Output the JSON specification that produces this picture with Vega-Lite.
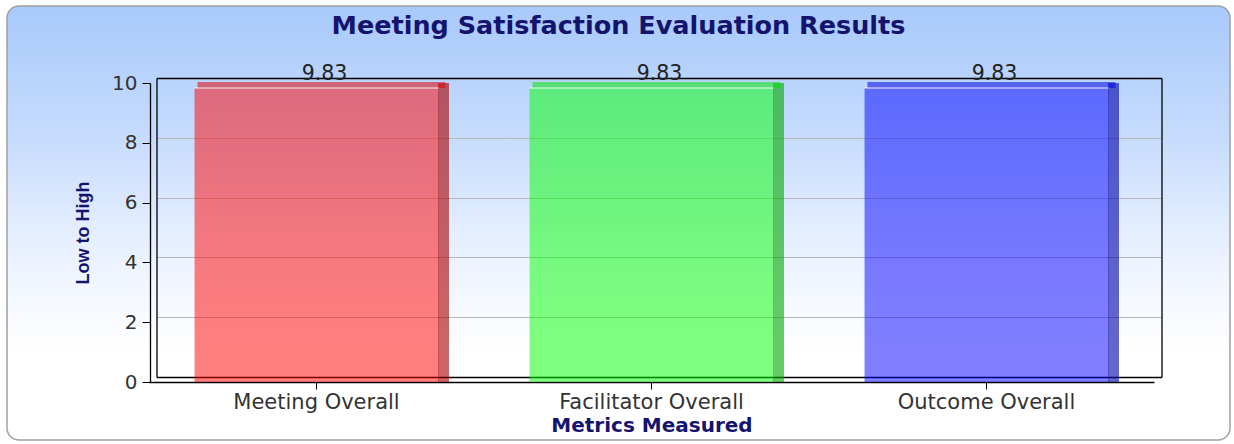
{
  "$schema": "https://vega.github.io/schema/vega-lite/v6.json",
  "width": 1223,
  "height": 434,
  "autosize": {"type": "none"},
  "padding": {"left": 7, "top": 6, "right": 4, "bottom": 4},
  "background": "white",
  "config": {
    "view": {
      "fill": {"gradient": "linear", "x1": 0, "y1": 0, "x2": 0, "y2": 1,
        "stops": [
          {"offset": 0, "color": "#a8c9fb"},
          {"offset": 0.3, "color": "#c6dcfd"},
          {"offset": 0.6, "color": "#eef4ff"},
          {"offset": 0.8, "color": "#ffffff"},
          {"offset": 1, "color": "#ffffff"}
        ]},
      "stroke": "#a0a0a0",
      "strokeWidth": 1.5,
      "cornerRadius": 12
    }
  },
  "title": {
    "text": "Meeting Satisfaction Evaluation Results",
    "font": "DejaVu Sans",
    "fontSize": 25.5,
    "fontWeight": "bold",
    "color": "#14146e",
    "anchor": "middle",
    "frame": "group",
    "baseline": "alphabetic",
    "offset": -53
  },
  "data": {
    "values": [
      {"metric": "Meeting Overall", "score": 9.83},
      {"metric": "Facilitator Overall", "score": 9.83},
      {"metric": "Outcome Overall", "score": 9.83}
    ]
  },
  "layer": [
    {
      "mark": {"type": "bar", "opacity": 0},
      "encoding": {
        "x": {"field": "metric", "type": "nominal",
          "scale": {"domain": ["Meeting Overall", "Facilitator Overall", "Outcome Overall"], "range": [149.5, 1154.5], "paddingInner": 0.272, "paddingOuter": 0.136},
          "axis": {"orient": "top", "offset": -72, "domain": true, "domainColor": "#000", "domainWidth": 1.3, "ticks": false, "labels": false, "grid": false, "title": null}},
        "y": {"field": "score", "type": "quantitative", "stack": null,
          "scale": {"domain": [0, 10], "range": [371, 72], "nice": false},
          "axis": {"orient": "left", "offset": -149.5, "domain": true, "domainColor": "#000", "domainWidth": 1.3, "ticks": false, "labels": false, "grid": true, "gridColor": "#b8b8b8", "gridWidth": 1, "values": [2, 4, 6, 8], "title": null}}
      }
    },
    {
      "mark": {"type": "bar", "opacity": 0},
      "encoding": {
        "x": {"field": "metric", "type": "nominal",
          "scale": {"domain": ["Meeting Overall", "Facilitator Overall", "Outcome Overall"], "range": [149.5, 1154.5], "paddingInner": 0.272, "paddingOuter": 0.136},
          "axis": {"orient": "bottom", "offset": -63, "domain": true, "domainColor": "#000", "domainWidth": 1.3, "ticks": false, "labels": false, "grid": false, "title": null}},
        "y": {"field": "score", "type": "quantitative", "stack": null,
          "scale": {"domain": [0, 10], "range": [371, 72], "nice": false},
          "axis": {"orient": "right", "offset": -68.5, "domain": true, "domainColor": "#000", "domainWidth": 1.3, "ticks": false, "labels": false, "grid": false, "title": null}}
      }
    },
    {
      "encoding": {
        "x": {"field": "metric", "type": "nominal", "title": "Metrics Measured",
          "scale": {"domain": ["Meeting Overall", "Facilitator Overall", "Outcome Overall"], "range": [142, 1147], "paddingInner": 0.272, "paddingOuter": 0.136},
          "axis": {"orient": "bottom", "offset": -58, "labelAngle": 0, "labelLimit": 0, "labelFont": "DejaVu Sans", "labelFontSize": 21, "labelColor": "#333", "labelPadding": 2, "tickSize": 7, "tickColor": "#000", "domainColor": "#000", "domainWidth": 1.3, "titleFont": "DejaVu Sans", "titleFontSize": 20, "titleFontWeight": "bold", "titleColor": "#14146e", "titlePadding": 3, "grid": false}},
        "y": {"field": "score", "type": "quantitative", "stack": null, "title": "Low to High",
          "scale": {"domain": [0, 10], "range": [376, 77], "nice": false},
          "axis": {"orient": "left", "offset": -143, "values": [0, 2, 4, 6, 8, 10], "grid": false, "labelFont": "DejaVu Sans", "labelFontSize": 20, "labelColor": "#333", "labelPadding": 5, "tickSize": 8, "tickColor": "#000", "domainColor": "#000", "domainWidth": 1.3, "titleFont": "Liberation Sans", "titleFontSize": 18, "titleFontWeight": "bold", "titleColor": "#14146e", "titlePadding": 19}},
        "color": {"field": "metric", "type": "nominal",
          "scale": {"domain": ["Meeting Overall", "Facilitator Overall", "Outcome Overall"], "range": ["#ff0000", "#00ff00", "#0000ff"]},
          "legend": null}
      },
      "layer": [
        {"mark": {"type": "bar", "opacity": 0.5}},
        {"mark": {"type": "bar", "opacity": 0.5, "width": 11, "xOffset": 127, "yOffset": -5}},
        {"mark": {"type": "bar", "opacity": 0.2, "width": 11, "xOffset": 127, "yOffset": -5}, "encoding": {"color": {"value": "#000"}}},
        {"mark": {"type": "bar", "opacity": 0.5, "width": 248, "xOffset": 5, "yOffset": -6}, "encoding": {"y2": {"field": "score"}}},
        {"mark": {"type": "bar", "opacity": 0.06, "width": 248, "xOffset": 5, "yOffset": -6}, "encoding": {"y2": {"field": "score"}, "color": {"value": "#000"}}},
        {"mark": {"type": "tick", "orient": "horizontal", "thickness": 1.5, "size": 244, "opacity": 0.6}, "encoding": {"color": {"value": "#ffffff"}}},
        {"mark": {"type": "text", "font": "DejaVu Sans", "fontSize": 20.5, "baseline": "alphabetic", "xOffset": 8, "dy": -8}, "encoding": {"text": {"field": "score", "type": "quantitative", "format": ".2f"}, "color": {"value": "#222"}}}
      ]
    }
  ],
  "resolve": {"scale": {"x": "independent", "y": "independent"}, "axis": {"x": "independent", "y": "independent"}}
}
